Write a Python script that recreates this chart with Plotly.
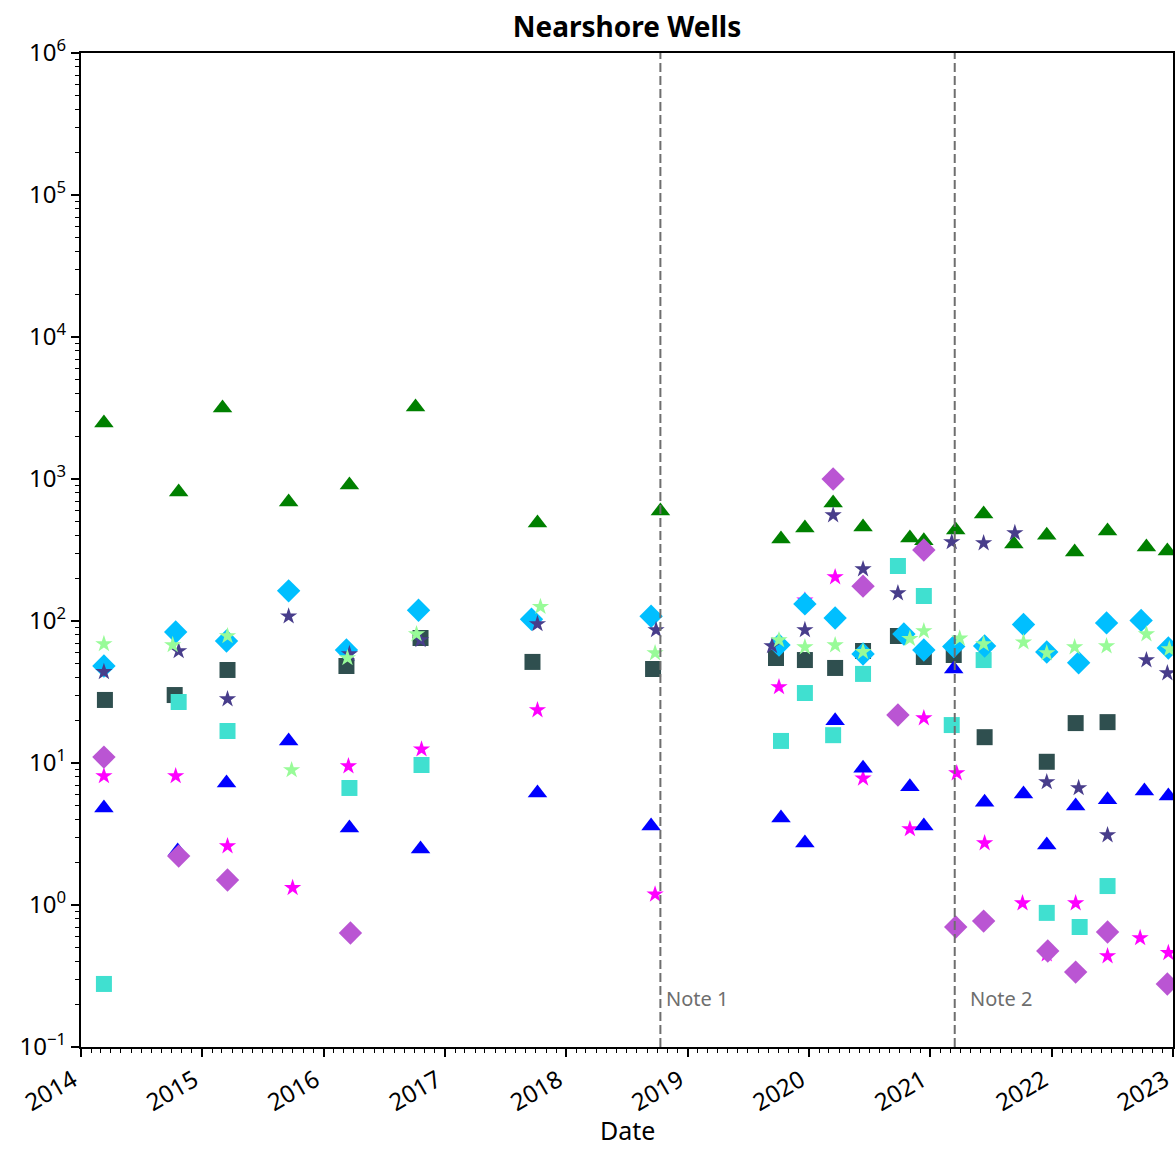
import plotly.graph_objects as go

# ---------------- data ----------------
green_tri_dates = ["2014-03-11", "2014-10-22", "2015-03-03", "2015-09-18", "2016-03-19", "2016-10-04",
                   "2017-10-06", "2018-10-11", "2019-10-09", "2019-12-20", "2020-03-14", "2020-06-12",
                   "2020-10-31", "2020-12-12", "2021-03-18", "2021-06-10", "2021-09-09", "2021-12-17",
                   "2022-03-11", "2022-06-18", "2022-10-13", "2022-12-15"]
green_tri_vals = [2480, 810, 3160, 689, 907, 3210, 490, 595, 378, 452, 678, 460,
                  384, 367, 438, 567, 349, 402, 306, 431, 332, 311]

blue_tri_dates = ["2014-03-11", "2014-10-19", "2015-03-15", "2015-09-18", "2016-03-19", "2016-10-19",
                  "2017-10-06", "2018-09-13", "2019-10-09", "2019-12-20", "2020-03-20", "2020-06-12",
                  "2020-10-31", "2020-12-12", "2021-03-12", "2021-06-13", "2021-10-08", "2021-12-17",
                  "2022-03-14", "2022-06-18", "2022-10-07", "2022-12-18"]
blue_tri_vals = [4.82, 2.4, 7.23, 14.3, 3.48, 2.48, 6.15, 3.6, 4.1, 2.73, 19.8, 9.2,
                 6.8, 3.6, 45.9, 5.3, 6.05, 2.65, 4.98, 5.5, 6.35, 5.86]

dark_sq_dates = ["2014-03-14", "2014-10-10", "2015-03-18", "2016-03-10", "2016-10-19", "2017-09-21",
                 "2018-09-19", "2019-09-24", "2019-12-20", "2020-03-20", "2020-06-12", "2020-09-25",
                 "2020-12-12", "2021-03-12", "2021-06-13", "2021-12-17", "2022-03-14", "2022-06-18"]
dark_sq_vals = [27.8, 30.1, 45.2, 48.2, 75.9, 51.5, 45.9, 54.9, 53.1, 46.7, 61.5, 78.4,
                55.8, 57.6, 15.2, 10.2, 19.1, 19.4]

turq_sq_dates = ["2014-03-11", "2014-10-22", "2015-03-18", "2016-03-19", "2016-10-22", "2019-10-09",
                 "2019-12-20", "2020-03-14", "2020-06-12", "2020-09-25", "2020-12-12", "2021-03-06",
                 "2021-06-10", "2021-12-17", "2022-03-26", "2022-06-18"]
turq_sq_vals = [0.278, 26.9, 16.8, 6.67, 9.68, 14.3, 31.1, 15.7, 42.4, 244, 150, 18.5,
                53.1, 0.88, 0.70, 1.36]

sky_dia_dates = ["2014-03-11", "2014-10-13", "2015-03-15", "2015-09-18", "2016-03-10", "2016-10-13",
                 "2017-09-18", "2018-09-13", "2019-10-03", "2019-12-20", "2020-03-20", "2020-06-12",
                 "2020-10-13", "2020-12-12", "2021-03-12", "2021-06-13", "2021-10-08", "2021-12-17",
                 "2022-03-23", "2022-06-15", "2022-09-27", "2022-12-18"]
sky_dia_vals = [48.2, 83.7, 72.3, 163, 62.5, 119, 103, 108, 67.8, 132, 105, 58.6,
                81, 62.5, 66, 66.7, 94.5, 60.5, 50.8, 97, 101, 64.5]

orchid_dia_dates = ["2014-03-11", "2014-10-22", "2015-03-18", "2016-03-22", "2020-03-14", "2020-06-12",
                    "2020-09-25", "2020-12-12", "2021-03-18", "2021-06-10", "2021-12-20", "2022-03-14",
                    "2022-06-18", "2022-12-15"]
orchid_dia_vals = [11.0, 2.21, 1.50, 0.635, 1000, 176, 21.8, 316, 0.70, 0.77, 0.474, 0.337,
                   0.645, 0.278]

slate_star_dates = ["2014-03-11", "2014-10-22", "2015-03-18", "2015-09-18", "2016-03-19", "2016-10-19",
                    "2017-10-06", "2018-09-28", "2019-09-12", "2019-12-20", "2020-03-14", "2020-06-12",
                    "2020-09-25", "2021-03-06", "2021-06-10", "2021-09-12", "2021-12-17", "2022-03-23",
                    "2022-06-18", "2022-10-13", "2022-12-15"]
slate_star_vals = [43.8, 61.5, 28.2, 108, 58.6, 73.5, 95.3, 86.5, 66.7, 86.5, 557, 232,
                   157, 360, 354, 417, 7.35, 6.67, 3.11, 53.1, 43]

pale_star_dates = ["2014-03-11", "2014-10-04", "2015-03-18", "2015-09-27", "2016-03-13", "2016-10-07",
                   "2017-10-15", "2018-09-25", "2019-10-03", "2019-12-20", "2020-03-20", "2020-06-12",
                   "2020-10-31", "2020-12-12", "2021-03-30", "2021-06-10", "2021-10-08", "2021-12-17",
                   "2022-03-11", "2022-06-15", "2022-10-13", "2022-12-21"]
pale_star_vals = [68.9, 67.8, 78.4, 8.93, 54.9, 80.9, 126, 59.5, 73.5, 65.5, 67.6, 60.6,
                  75, 85, 75.5, 68.9, 70.9, 59.5, 65.5, 66.5, 80.9, 63.5]

mag_star_dates = ["2014-03-11", "2014-10-13", "2015-03-18", "2015-09-30", "2016-03-16", "2016-10-22",
                  "2017-10-06", "2018-09-25", "2019-10-03", "2019-12-20", "2020-03-20", "2020-06-12",
                  "2020-10-31", "2020-12-12", "2021-03-21", "2021-06-13", "2021-10-05", "2021-12-17",
                  "2022-03-14", "2022-06-18", "2022-09-24", "2022-12-18"]
mag_star_vals = [8.1, 8.1, 2.6, 1.32, 9.5, 12.5, 23.6, 1.19, 34.3, 140, 204, 7.8,
                 3.43, 20.7, 8.5, 2.73, 1.03, 0.45, 1.03, 0.437, 0.586, 0.46]

note_dates = ["2018-10-11", "2021-03-15"]
note_labels = ["Note 1", "Note 2"]
note_text_dates = ["2018-10-31", "2021-05-02"]

year_ticks = [str(y) for y in range(2014, 2024)]
y_exponents = list(range(-1, 7))

# ---------------- figure ----------------
FONT = "Noto Sans, Open Sans, DejaVu Sans, sans-serif"

series = [
    (mag_star_dates, mag_star_vals, "star", "#FF00FF", 13),
    (dark_sq_dates, dark_sq_vals, "square", "#2F4F4F", 16),
    (turq_sq_dates, turq_sq_vals, "square", "#40E0D0", 16),
    (blue_tri_dates, blue_tri_vals, "triangle-up", "#0000FF", 17),
    (green_tri_dates, green_tri_vals, "triangle-up", "#008000", 17),
    (sky_dia_dates, sky_dia_vals, "diamond", "#00BFFF", 18),
    (orchid_dia_dates, orchid_dia_vals, "diamond", "#BA55D3", 18),
    (slate_star_dates, slate_star_vals, "star", "#483D8B", 13),
    (pale_star_dates, pale_star_vals, "star", "#98FB98", 13),
]

fig = go.Figure()
for d, v, sym, col, sz in series:
    fig.add_trace(go.Scatter(
        x=d, y=v, mode="markers",
        marker=dict(symbol=sym, color=col, size=sz, line=dict(width=0)),
        showlegend=False, cliponaxis=True,
    ))

for nd in note_dates:
    fig.add_shape(type="line", xref="x", yref="paper", x0=nd, x1=nd, y0=0, y1=1,
                  line=dict(color="#6E6E6E", width=2, dash="9px,4px"), layer="above")

for td, lab in zip(note_text_dates, note_labels):
    fig.add_annotation(x=td, y=-0.655, xref="x", yref="y", text=lab, showarrow=False,
                       xanchor="left", yanchor="middle", xshift=-3,
                       font=dict(family=FONT, size=20, color="#6E6E6E"))

fig.add_annotation(x=0.5, y=-0.083, xref="paper", yref="paper", text="Date", showarrow=False,
                   xanchor="center", yanchor="middle", font=dict(family=FONT, size=25, color="black"))

minor_y = [m * 10 ** e for e in range(-1, 6) for m in range(2, 10)]

fig.update_layout(
    width=1176, height=1149,
    margin=dict(l=81, r=1, t=53, b=102),
    paper_bgcolor="white", plot_bgcolor="white",
    font=dict(family=FONT, color="black"),
    title=dict(text="<b>Nearshore Wells</b>", x=0.5, xref="paper", xanchor="center",
               y=1 - 27 / 1149, yref="container", yanchor="middle",
               font=dict(family=FONT, size=28, color="black")),
    xaxis=dict(
        type="date", range=["2014-01-01", "2023-01-01"],
        tickmode="array", tickvals=[f"{y}-01-01" for y in year_ticks], ticktext=year_ticks,
        tickangle=-30, tickfont=dict(family=FONT, size=24, color="black"),
        ticklabelshift=-8,
        ticks="outside", ticklen=8, tickwidth=1.6, tickcolor="black",
        showline=True, linecolor="black", linewidth=2, mirror=True,
        showgrid=False, zeroline=False,
        minor=dict(ticks="outside", ticklen=4, tickwidth=1.2, tickcolor="black",
                   dtick="M1", tick0="2014-01-01", showgrid=False),
    ),
    yaxis=dict(
        type="log", range=[-1, 6],
        tickmode="array", tickvals=[10.0 ** e for e in y_exponents],
        ticktext=[f"10<sup>{str(e).replace('-', '−')}</sup>" for e in y_exponents],
        tickfont=dict(family=FONT, size=24, color="black"),
        ticks="outside", ticklen=8, tickwidth=1.6, tickcolor="black",
        showline=True, linecolor="black", linewidth=2, mirror=True,
        showgrid=False, zeroline=False,
        minor=dict(ticks="outside", ticklen=4, tickwidth=1.2, tickcolor="black",
                   tickmode="array", tickvals=minor_y, showgrid=False),
    ),
)

fig.write_html("out.html", config={"displayModeBar": False},
               post_script="document.body.style.margin='0';document.body.style.overflow='hidden';")
